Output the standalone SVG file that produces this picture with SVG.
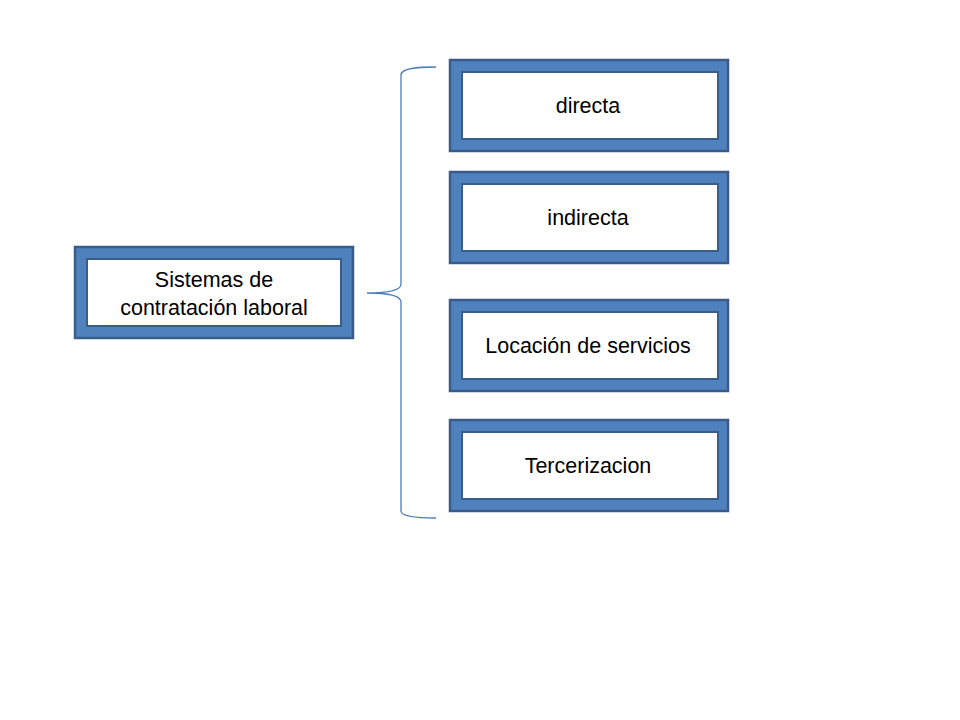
<svg xmlns="http://www.w3.org/2000/svg" width="960" height="720" viewBox="0 0 960 720">
<style>
.outer{fill:#4F81BD;stroke:#385D8A;stroke-width:2.5}
.inner{fill:#FFFFFF;stroke:#385D8A;stroke-width:2}
.lbl{font-family:"Liberation Sans",Arial,sans-serif;font-size:21.5px;fill:#000;text-anchor:middle}
.brace{fill:none;stroke:#4A7EBB;stroke-width:1.3}
</style>
<rect width="960" height="720" fill="#FFFFFF"/>
<g id="connectors">
<path class="brace" d="M436,67 C418,67 401,68 401,75 L401,284 C401,290 390,293 367,293 C390,293 401,296 401,302 L401,511 C401,517 418,518 436,518"/>
</g>
<g id="node-root">
<rect class="outer" x="75" y="247" width="278" height="91"/>
<rect class="inner" x="87" y="259" width="254" height="67"/>
<text class="lbl" x="214" y="287">Sistemas de</text>
<text class="lbl" x="214" y="315">contratación laboral</text>
</g>
<g id="node-directa">
<rect class="outer" x="450" y="60" width="278" height="91"/>
<rect class="inner" x="462" y="72" width="256" height="67"/>
<text class="lbl" x="588" y="113">directa</text>
</g>
<g id="node-indirecta">
<rect class="outer" x="450" y="172" width="278" height="91"/>
<rect class="inner" x="462" y="184" width="256" height="67"/>
<text class="lbl" x="588" y="225">indirecta</text>
</g>
<g id="node-locacion">
<rect class="outer" x="450" y="300" width="278" height="91"/>
<rect class="inner" x="462" y="312" width="256" height="67"/>
<text class="lbl" x="588" y="353">Locación de servicios</text>
</g>
<g id="node-tercerizacion">
<rect class="outer" x="450" y="420" width="278" height="91"/>
<rect class="inner" x="462" y="432" width="256" height="67"/>
<text class="lbl" x="588" y="473">Tercerizacion</text>
</g>
</svg>
